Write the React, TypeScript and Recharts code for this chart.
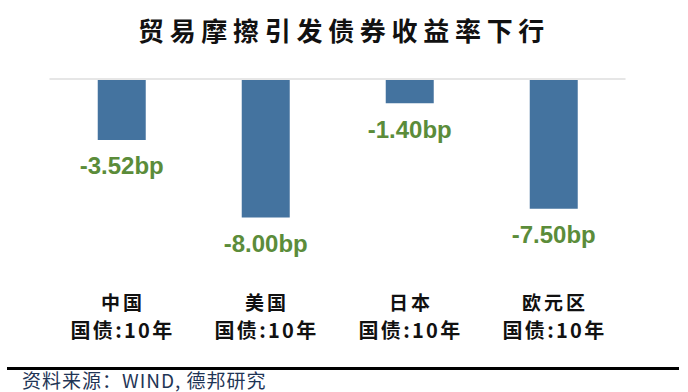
import React from 'react';
import { BarChart, Bar, XAxis, YAxis, ReferenceLine, LabelList } from 'recharts';

const categories = ['中国', '美国', '日本', '欧元区'];
const subLabels = ['国债:10年', '国债:10年', '国债:10年', '国债:10年'];
const changes = [-3.52, -8.0, -1.4, -7.5];
const valueLabels = ['-3.52bp', '-8.00bp', '-1.40bp', '-7.50bp'];
const title = '贸易摩擦引发债券收益率下行';
const source = '资料来源：WIND, 德邦研究';

const data = categories.map((c, i) => ({
  name: c,
  sub: subLabels[i],
  value: changes[i],
  label: valueLabels[i],
}));

const CJK = '"Noto Sans CJK SC", "Noto Sans", sans-serif';

const CatTick = (props: any) => {
  const { x, payload, index } = props;
  const sub = subLabels[index ?? payload.index] ?? subLabels[0];
  return (
    <g>
      <text x={x + 1.5} y={301} textAnchor="middle" dominantBaseline="central"
        fontFamily={CJK} fontWeight={700} fontSize={19} fill="#111" letterSpacing={3}>
        {payload.value}
      </text>
      <text x={x + 1} y={329} textAnchor="middle" dominantBaseline="central"
        fontFamily={CJK} fontWeight={700} fontSize={20} fill="#111" letterSpacing={2.3}>
        {sub}
      </text>
    </g>
  );
};

const ValueLabel = (props: any) => {
  const { x, y, width, height, index } = props;
  const bottom = Math.max(y, y + height);
  return (
    <text x={x + width / 2} y={bottom + 26} textAnchor="middle" dominantBaseline="central"
      fontFamily='"Liberation Sans", Arial, sans-serif' fontWeight={700} fontSize={24} fill="#5b8c3a">
      {valueLabels[index]}
    </text>
  );
};

export default function App() {
  return (
    <div style={{ position: 'absolute', left: 0, top: 0, width: 688, height: 392, background: '#fff' }}>
      <div style={{
        position: 'absolute', left: 0, top: 12, width: 688, textAlign: 'center',
        fontFamily: CJK, fontWeight: 700, fontSize: 26, letterSpacing: 5.7, color: '#111', lineHeight: '36px',
      }}>{title}</div>
      <BarChart width={688} height={392} data={data}
        margin={{ top: 79, left: 49.5, right: 62.5, bottom: 83 }} barCategoryGap="33.5%">
        <XAxis dataKey="name" height={30} axisLine={false} tickLine={false} tick={<CatTick />} interval={0} />
        <YAxis hide domain={[-11.56, 0]} />
        <ReferenceLine y={0} stroke="#e6e6e6" strokeWidth={2} />
        <Bar dataKey="value" fill="#44739f" isAnimationActive={false}>
          <LabelList dataKey="label" content={<ValueLabel />} />
        </Bar>
      </BarChart>
      <div style={{ position: 'absolute', left: 7, top: 367, width: 672, height: 2.5, background: '#000' }} />
      <div style={{
        position: 'absolute', left: 22, top: 369, fontFamily: CJK, fontSize: 19, color: '#1f3556',
        lineHeight: '22px', whiteSpace: 'nowrap', letterSpacing: 1,
      }}>{source}</div>
    </div>
  );
}
